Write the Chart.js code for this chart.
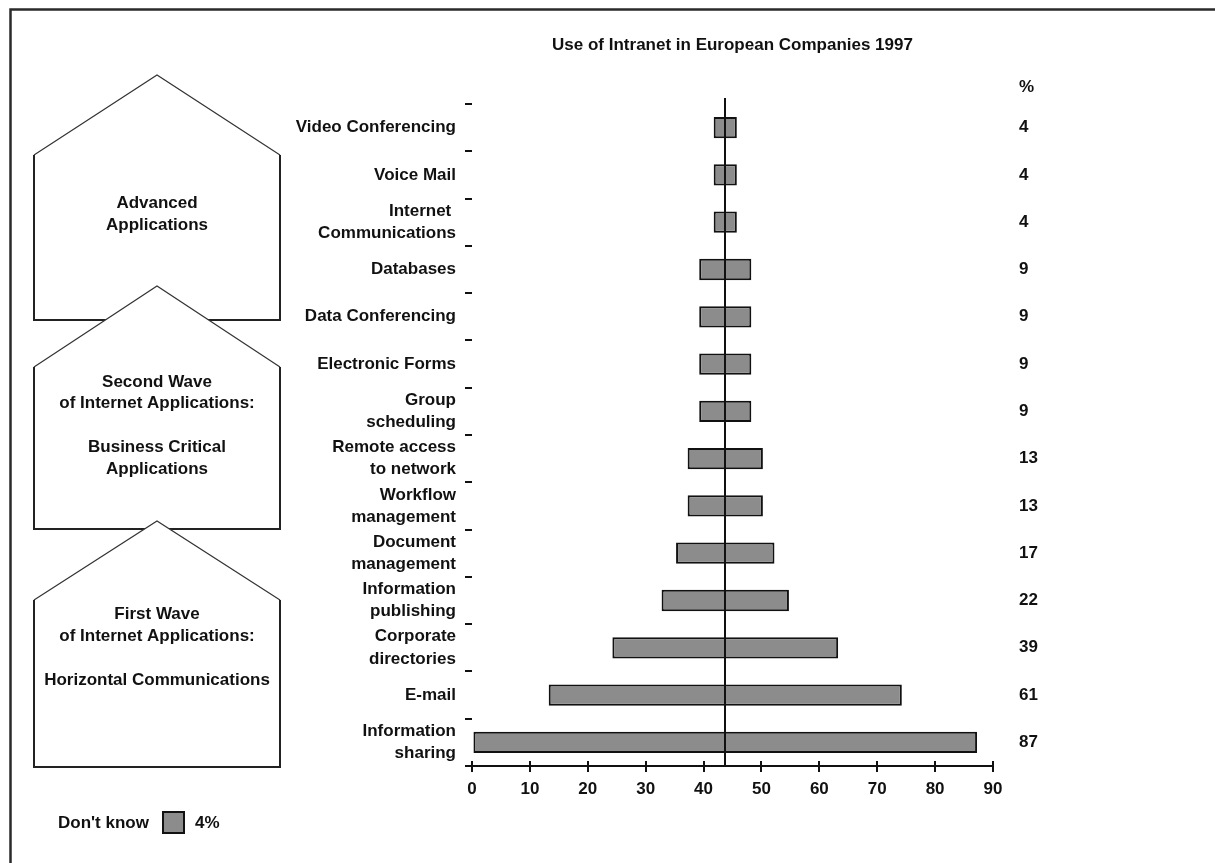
<!DOCTYPE html>
<html>
<head>
<meta charset="utf-8">
<script src="https://cdn.jsdelivr.net/npm/chart.js@4/dist/chart.umd.min.js"></script>
<style>
html,body{margin:0;padding:0;background:#fff;}
#wrap{width:1215px;height:863px;position:relative;}
canvas{display:block;}
</style>
</head>
<body>
<div id="wrap"><canvas id="c" width="1215" height="863"></canvas></div>
<script>
// ---- data ----
const categories = [
  ["Video Conferencing"],
  ["Voice Mail"],
  ["Internet ", "Communications"],
  ["Databases"],
  ["Data Conferencing"],
  ["Electronic Forms"],
  ["Group", "scheduling"],
  ["Remote access", "to network"],
  ["Workflow", "management"],
  ["Document", "management"],
  ["Information", "publishing"],
  ["Corporate", "directories"],
  ["E-mail"],
  ["Information", "sharing"]
];
const percentages = [4, 4, 4, 9, 9, 9, 9, 13, 13, 17, 22, 39, 61, 87];
const valueLabels = ["4", "4", "4", "9", "9", "9", "9", "13", "13", "17", "22", "39", "61", "87"];
const centerValue = 43.75;
const xTickValues = [0, 10, 20, 30, 40, 50, 60, 70, 80, 90];
const chartTitle = "Use of Intranet in European Companies 1997";
const percentHeader = "%";
const dontKnowLabel = "Don't know";
const dontKnowValue = "4%";
const houseTexts = [
  ["Advanced", "Applications"],
  ["Second Wave", "of Internet Applications:", "", "Business Critical", "Applications"],
  ["First Wave", "of Internet Applications:", "", "Horizontal Communications"]
];

// ---- style ----
const FONT = '"Liberation Sans", Arial, Helvetica, sans-serif';
const FS = 17;
const INK = '#111';
const BAR_FILL = '#8c8c8c';

const floatingBars = percentages.map(v => [centerValue - v / 2, centerValue + v / 2]);

const decorPlugin = {
  id: 'decor',
  beforeDraw(chart) {
    const ctx = chart.ctx;
    ctx.save();
    // frame
    ctx.strokeStyle = '#2a2a2a';
    ctx.lineWidth = 2.5;
    ctx.beginPath();
    ctx.moveTo(10.5, 863);
    ctx.lineTo(10.5, 9.5);
    ctx.lineTo(1215, 9.5);
    ctx.stroke();

    // houses
    const houses = [
      {apex: 75, shoulder: 155, bottom: 320, textY: [203, 225]},
      {apex: 286, shoulder: 367, bottom: 529, textY: [382, 403, 425, 447, 469]},
      {apex: 521, shoulder: 600, bottom: 767, textY: [614, 636, 658, 680]}
    ];
    const L = 34, R = 280, M = 157;
    houses.forEach((h, i) => {
      ctx.beginPath();
      ctx.moveTo(M, h.apex);
      ctx.lineTo(R, h.shoulder);
      ctx.lineTo(R, h.bottom);
      ctx.lineTo(L, h.bottom);
      ctx.lineTo(L, h.shoulder);
      ctx.closePath();
      ctx.fillStyle = '#fff';
      ctx.fill();
      // roof (thin)
      ctx.strokeStyle = '#333';
      ctx.lineWidth = 1.2;
      ctx.beginPath();
      ctx.moveTo(L, h.shoulder);
      ctx.lineTo(M, h.apex);
      ctx.lineTo(R, h.shoulder);
      ctx.stroke();
      // walls (thicker)
      ctx.strokeStyle = '#222';
      ctx.lineWidth = 2;
      ctx.beginPath();
      ctx.moveTo(R, h.shoulder);
      ctx.lineTo(R, h.bottom);
      ctx.lineTo(L, h.bottom);
      ctx.lineTo(L, h.shoulder);
      ctx.stroke();
      // text
      ctx.fillStyle = INK;
      ctx.font = 'bold ' + FS + 'px ' + FONT;
      ctx.textAlign = 'center';
      ctx.textBaseline = 'middle';
      houseTexts[i].forEach((t, k) => {
        if (t) ctx.fillText(t, M, h.textY[k]);
      });
    });

    // legend "Don't know"
    ctx.font = 'bold ' + FS + 'px ' + FONT;
    ctx.fillStyle = INK;
    ctx.textAlign = 'left';
    ctx.textBaseline = 'middle';
    ctx.fillText(dontKnowLabel, 58, 823);
    ctx.fillStyle = BAR_FILL;
    ctx.fillRect(163, 812, 21, 21);
    ctx.strokeStyle = INK;
    ctx.lineWidth = 2;
    ctx.strokeRect(163, 812, 21, 21);
    ctx.fillStyle = INK;
    ctx.fillText(dontKnowValue, 195, 823);
    ctx.restore();
  },
  afterDatasetsDraw(chart) {
    const ctx = chart.ctx;
    const xs = chart.scales.x;
    const area = chart.chartArea;
    ctx.save();
    // central reference line
    const cx = Math.round(xs.getPixelForValue(centerValue));
    ctx.strokeStyle = INK;
    ctx.lineWidth = 2;
    ctx.beginPath();
    ctx.moveTo(cx, area.top - 6);
    ctx.lineTo(cx, area.bottom);
    ctx.stroke();
    ctx.restore();
  },
  afterDraw(chart) {
    const ctx = chart.ctx;
    const xs = chart.scales.x;
    const y2 = chart.scales.y2;
    const area = chart.chartArea;
    ctx.save();
    // upper halves of x ticks (crossing ticks)
    ctx.strokeStyle = INK;
    ctx.lineWidth = 2;
    xs.ticks.forEach(t => {
      const px = Math.round(xs.getPixelForValue(t.value));
      ctx.beginPath();
      ctx.moveTo(px, area.bottom - 5);
      ctx.lineTo(px, area.bottom);
      ctx.stroke();
    });
    // % header above value column
    ctx.font = 'bold ' + FS + 'px ' + FONT;
    ctx.fillStyle = INK;
    ctx.textAlign = 'left';
    ctx.textBaseline = 'middle';
    ctx.fillText(percentHeader, y2.left + y2.options.ticks.padding, 87);
    ctx.restore();
  }
};

new Chart(document.getElementById('c'), {
  type: 'bar',
  data: {
    labels: categories,
    datasets: [{
      data: floatingBars,
      backgroundColor: BAR_FILL,
      borderColor: INK,
      borderWidth: 2,
      borderSkipped: false,
      barPercentage: 0.45,
      categoryPercentage: 1
    }]
  },
  options: {
    indexAxis: 'y',
    responsive: false,
    animation: false,
    devicePixelRatio: 1,
    layout: {padding: {left: 272, right: 162, top: 0, bottom: 57}},
    plugins: {
      legend: {display: false},
      tooltip: {enabled: false},
      title: {
        display: true,
        text: chartTitle,
        fullSize: false,
        color: INK,
        font: {family: FONT, size: FS, weight: 'bold'},
        padding: {top: 35, bottom: 48.6}
      }
    },
    scales: {
      x: {
        type: 'linear',
        position: 'bottom',
        min: 0,
        max: 90,
        afterBuildTicks: s => { s.ticks = xTickValues.map(v => ({value: v})); },
        ticks: {color: INK, font: {family: FONT, size: FS, weight: 'bold'}, padding: 7, maxRotation: 0},
        grid: {drawOnChartArea: false, drawTicks: true, tickLength: 6, color: INK, lineWidth: 2},
        border: {display: true, color: INK, width: 2},
        afterFit: s => { s.height = 40; }
      },
      y: {
        type: 'category',
        position: 'left',
        offset: true,
        ticks: {color: INK, font: {family: FONT, size: FS, weight: 'bold', lineHeight: 1.3}, padding: 9},
        grid: {offset: true, drawOnChartArea: false, drawTicks: true, tickLength: 7, color: INK, lineWidth: 2},
        border: {display: false},
        afterFit: s => { s.width = 200; }
      },
      y2: {
        type: 'category',
        axis: 'y',
        position: 'right',
        labels: valueLabels,
        offset: true,
        ticks: {color: INK, font: {family: FONT, size: FS, weight: 'bold'}, padding: 26},
        grid: {display: false, drawTicks: false},
        border: {display: false},
        afterFit: s => { s.width = 60; }
      }
    }
  },
  plugins: [decorPlugin]
});
</script>
</body>
</html>
